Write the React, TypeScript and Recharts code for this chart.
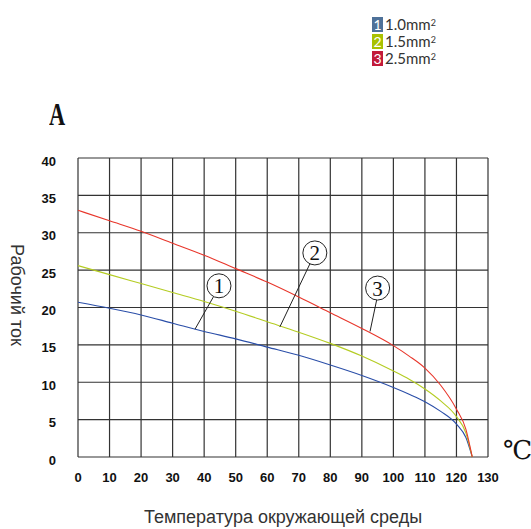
import React from 'react';
import {
  LineChart, Line, XAxis, YAxis, CartesianGrid, ReferenceLine, ReferenceDot,
} from 'recharts';

const temps = [0, 10, 20, 30, 40, 50, 60, 70, 80, 90, 100, 105, 110, 115, 120, 123, 125];
const cur10 = [20.7, 19.9, 19.0, 17.9, 16.8, 15.8, 14.7, 13.6, 12.3, 10.9, 9.3, 8.4, 7.4, 6.1, 4.4, 2.6, 0];
const cur15 = [25.6, 24.4, 23.2, 22.0, 20.8, 19.5, 18.1, 16.7, 15.2, 13.5, 11.5, 10.4, 9.1, 7.5, 5.4, 3.2, 0];
const cur25 = [33.0, 31.6, 30.2, 28.6, 27.0, 25.2, 23.4, 21.4, 19.3, 17.2, 14.9, 13.5, 11.9, 9.6, 6.4, 3.7, 0];

const xTicks = [0, 10, 20, 30, 40, 50, 60, 70, 80, 90, 100, 110, 120, 130];
const yTicks = [0, 5, 10, 15, 20, 25, 30, 35, 40];

const legendItems = [
  { n: '1', label: '1.0mm', color: '#4e7199' },
  { n: '2', label: '1.5mm', color: '#a9c100' },
  { n: '3', label: '2.5mm', color: '#c21a3a' },
];

// circled curve markers: label position and leader line (data coords)
const markers = [
  { n: '1', x: 44.7, y: 22.9, from: [42.9, 21.4], to: [37.1, 17.1] },
  { n: '2', x: 75.1, y: 27.3, from: [73.6, 25.9], to: [64.0, 17.4] },
  { n: '3', x: 95.0, y: 22.6, from: [94.7, 21.0], to: [92.6, 16.8] },
];

const data = temps.map((t, i) => ({ t, a: cur10[i], b: cur15[i], c: cur25[i] }));

const tickFont = { fontFamily: '"Liberation Sans Narrow", "Liberation Sans", sans-serif', fontWeight: 700, fontSize: 13, fill: '#111' };

const MarkerShape = ({ cx, cy, n }: any) => (
  <g>
    <circle cx={cx} cy={cy} r={12} fill="none" stroke="#222" strokeWidth={1} />
    <text x={cx} y={cy + 7.5} textAnchor="middle" fontFamily='"Liberation Serif", serif' fontSize={21} fill="#111">{n}</text>
  </g>
);

export default function App() {
  return (
    <div style={{ position: 'absolute', left: 0, top: 0, width: 531, height: 529, background: '#fff', overflow: 'hidden' }}>
      <LineChart width={531} height={529} data={data} margin={{ top: 158, right: 43, left: 48, bottom: 42 }}>
        <CartesianGrid stroke="#333" strokeWidth={1.2} />
        <XAxis
          dataKey="t" type="number" domain={[0, 130]} ticks={xTicks}
          axisLine={false} tickLine={false} tick={tickFont} height={30} dy={8}
        />
        <YAxis
          type="number" domain={[0, 40]} ticks={yTicks} width={30}
          axisLine={false} tickLine={false} tick={tickFont} dx={-14} dy={3}
        />
        <Line dataKey="a" type="monotone" stroke="#2a4ea8" strokeWidth={1.1} dot={false} isAnimationActive={false} />
        <Line dataKey="b" type="monotone" stroke="#b4cc22" strokeWidth={1.1} dot={false} isAnimationActive={false} />
        <Line dataKey="c" type="monotone" stroke="#e8362b" strokeWidth={1.1} dot={false} isAnimationActive={false} />
        {markers.map((m) => (
          <ReferenceLine
            key={'l' + m.n}
            segment={[{ x: m.from[0], y: m.from[1] }, { x: m.to[0], y: m.to[1] }]}
            stroke="#222" strokeWidth={1} ifOverflow="visible"
          />
        ))}
        {markers.map((m) => (
          <ReferenceDot
            key={'d' + m.n} x={m.x} y={m.y} ifOverflow="visible"
            shape={(p: any) => <MarkerShape {...p} n={m.n} />}
          />
        ))}
      </LineChart>

      <div style={{ position: 'absolute', left: 49, top: 98, fontFamily: '"Liberation Serif", serif', fontWeight: 700, fontSize: 32, lineHeight: '32px', transform: 'scaleX(0.7)', transformOrigin: 'left', color: '#111' }}>A</div>
      <div style={{ position: 'absolute', left: 503, top: 436, fontFamily: '"Liberation Serif", "DejaVu Serif", serif', fontSize: 26, lineHeight: '30px', color: '#111' }}>℃</div>
      <div style={{ position: 'absolute', left: 16, top: 295, transform: 'translate(-50%, -50%) rotate(90deg)', whiteSpace: 'nowrap', fontFamily: '"Liberation Sans", Arial, sans-serif', fontSize: 18, color: '#333' }}>Рабочий ток</div>
      <div style={{ position: 'absolute', left: 283, top: 517, transform: 'translate(-50%, -50%)', whiteSpace: 'nowrap', fontFamily: '"Liberation Sans", Arial, sans-serif', fontSize: 18, color: '#333' }}>Температура окружающей среды</div>

      <div style={{ position: 'absolute', left: 372, top: 16, fontFamily: 'Lato, "Open Sans", sans-serif', fontSize: 15, color: '#333' }}>
        {legendItems.map((it) => (
          <div key={it.n} style={{ display: 'flex', alignItems: 'center', height: 17 }}>
            <span style={{ display: 'inline-block', width: 11, height: 15, background: it.color, color: '#fff', fontSize: 14, lineHeight: '15px', textAlign: 'center', marginRight: 2 }}>{it.n}</span>
            <span style={{ lineHeight: '15px' }}>{it.label}</span>
            <span style={{ fontSize: 9, lineHeight: '9px', alignSelf: 'flex-start', marginTop: 2 }}>2</span>
          </div>
        ))}
      </div>
    </div>
  );
}
